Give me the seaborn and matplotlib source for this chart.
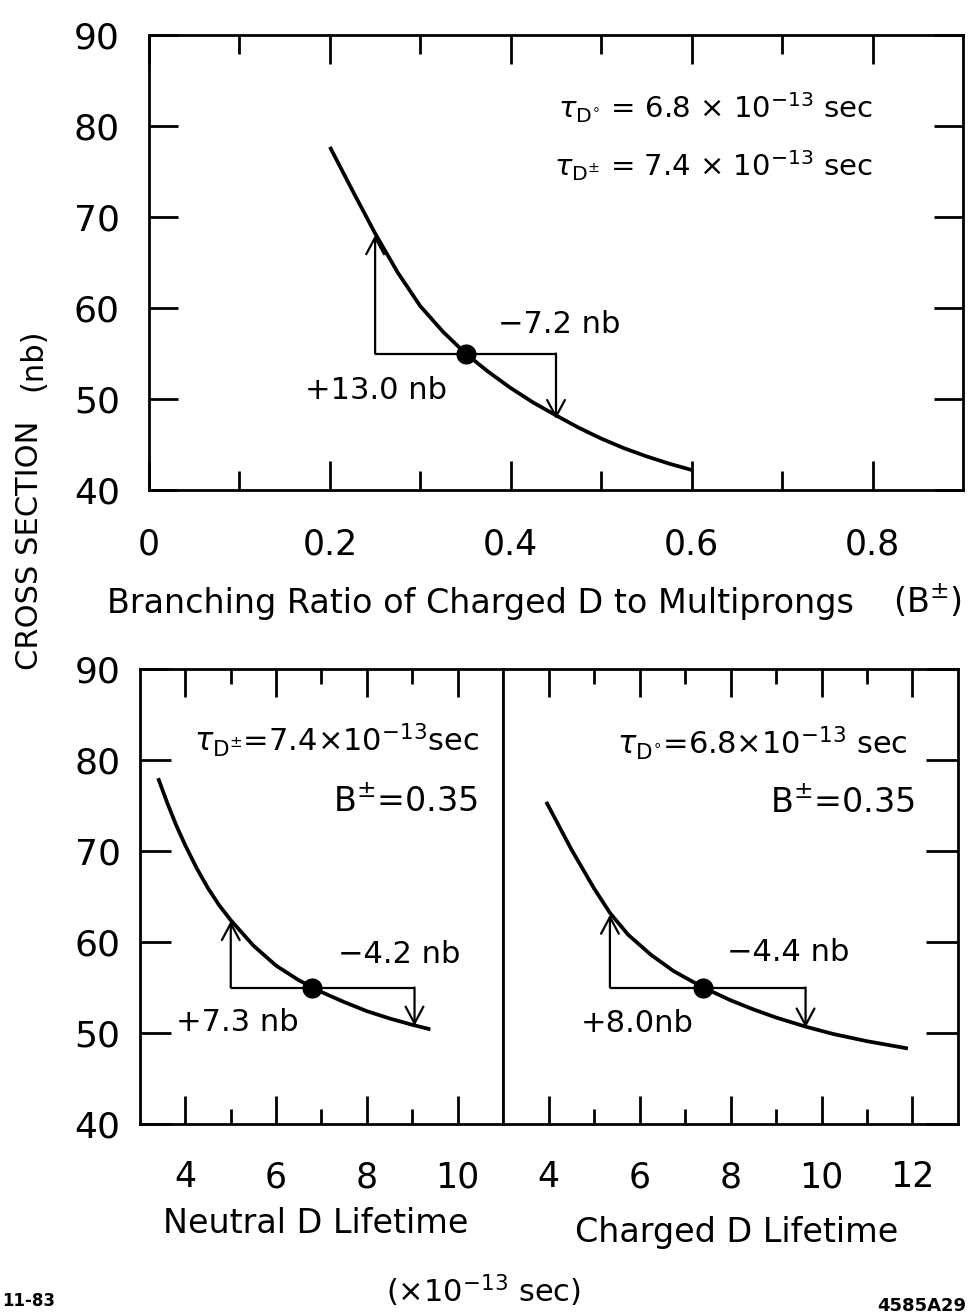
import matplotlib
matplotlib.use("Agg")
import matplotlib.pyplot as plt
import seaborn as sns

# ---- cross section (nb) versus charged-D branching ratio to multiprongs ----
branching_ratio = [0.200, 0.225, 0.250, 0.275, 0.300, 0.325, 0.350, 0.375, 0.400,
                   0.425, 0.450, 0.475, 0.500, 0.525, 0.550, 0.575, 0.600]
xsec_vs_branching = [77.7, 72.9, 68.2, 63.9, 60.2, 57.4, 55.0, 53.0, 51.2,
                     49.6, 48.2, 46.85, 45.65, 44.6, 43.7, 42.9, 42.2]

# ---- cross section versus neutral D lifetime (units of 1e-13 s) ----
neutral_lifetime = [3.4, 3.6, 3.8, 4.0, 4.25, 4.5, 4.75, 5.0, 5.5, 6.0, 6.5,
                    7.0, 7.5, 8.0, 8.5, 9.0, 9.4]
xsec_vs_neutral = [78.0, 75.3, 72.8, 70.6, 68.1, 65.9, 64.0, 62.4, 59.6, 57.4, 55.8,
                   54.5, 53.4, 52.4, 51.6, 50.9, 50.4]

# ---- cross section versus charged D lifetime (units of 1e-13 s) ----
charged_lifetime = [3.95, 4.5, 5.0, 5.35, 5.75, 6.25, 6.75, 7.4, 8.0, 8.5, 9.0,
                    9.65, 10.25, 11.0, 11.9]
xsec_vs_charged = [75.4, 70.2, 65.9, 63.2, 60.8, 58.6, 56.8, 55.0, 53.6, 52.6, 51.7,
                   50.7, 49.9, 49.1, 48.3]

# nominal working points and the variations applied around them
nominal_x = [0.35, 6.8, 7.4]
nominal_xsec = [55.0, 55.0, 55.0]
low_x = [0.25, 5.0, 5.35]
high_x = [0.45, 9.05, 9.65]
shift_up = [13.0, 7.3, 8.0]
shift_down = [-7.2, -4.2, -4.4]
shift_up_labels = ["+13.0 nb", "+7.3 nb", "+8.0nb"]
shift_down_labels = ["\u22127.2 nb", "\u22124.2 nb", "\u22124.4 nb"]

# axis ticks
y_ticks = [40, 50, 60, 70, 80, 90]
y_ticklabels = ["40", "50", "60", "70", "80", "90"]
br_major = [0.0, 0.2, 0.4, 0.6, 0.8]
br_major_labels = ["0", "0.2", "0.4", "0.6", "0.8"]
br_minor = [0.1, 0.3, 0.5, 0.7]
neutral_major = [4, 6, 8, 10]
neutral_minor = [5, 7, 9]
charged_major = [4, 6, 8, 10, 12]
charged_minor = [5, 7, 9, 11]

sns.set_style("ticks")
plt.rcParams["font.family"] = ["DejaVu Sans"]
plt.rcParams["mathtext.fontset"] = "dejavusans"
plt.rcParams["axes.linewidth"] = 2.0
for key in ("text.color", "axes.edgecolor", "axes.labelcolor",
            "xtick.color", "ytick.color"):
    plt.rcParams[key] = "black"

W, H = 970, 1313
fig = plt.figure(figsize=(W / 100, H / 100), dpi=100)


def frame(px_left, px_right, px_top, px_bottom):
    return fig.add_axes([px_left / W, 1 - px_bottom / H,
                         (px_right - px_left) / W, (px_bottom - px_top) / H])


ax_top = frame(149, 963, 35, 490)
ax_bl = frame(140, 503, 669, 1124)
ax_br = frame(503, 958, 669, 1124)

curve_lw = 2.7
arrow_lw = 1.6


def draw_panel(ax, xs, ys, i):
    sns.lineplot(x=xs, y=ys, ax=ax, color="black", lw=curve_lw, estimator=None,
                 sort=True, zorder=3, solid_joinstyle="round",
                 solid_capstyle="butt")
    base = nominal_xsec[i]
    ax.plot([low_x[i], high_x[i]], [base, base], color="black", lw=arrow_lw,
            solid_capstyle="butt", zorder=2)
    style = "->,head_length=0.6,head_width=0.32"
    ax.annotate("", xy=(low_x[i], base + shift_up[i]), xytext=(low_x[i], base),
                arrowprops=dict(arrowstyle=style, lw=arrow_lw, color="black",
                                shrinkA=0, shrinkB=0, mutation_scale=20))
    ax.annotate("", xy=(high_x[i], base + shift_down[i]), xytext=(high_x[i], base),
                arrowprops=dict(arrowstyle=style, lw=arrow_lw, color="black",
                                shrinkA=0, shrinkB=0, mutation_scale=20))
    sns.scatterplot(x=[nominal_x[i]], y=[base], ax=ax, s=210, color="black",
                    edgecolor="black", linewidth=0, zorder=4)
    ax.set_ylim(40, 90)
    ax.set_yticks(y_ticks)
    ax.set_xlabel("")
    ax.set_ylabel("")
    for sp in ax.spines.values():
        sp.set_visible(True)
        sp.set_linewidth(2.0)
        sp.set_color("black")


# ---- top panel ----
draw_panel(ax_top, branching_ratio, xsec_vs_branching, 0)
ax_top.set_xlim(0, 0.9)
ax_top.set_xticks(br_major)
ax_top.set_xticklabels(br_major_labels)
ax_top.set_xticks(br_minor, minor=True)
ax_top.set_yticklabels(y_ticklabels)
ax_top.tick_params(axis="x", which="major", direction="in", length=21, width=2,
                   top=True, bottom=True, labelsize=25, pad=27)
ax_top.tick_params(axis="x", which="minor", direction="in", length=14, width=2,
                   top=True, bottom=True)
ax_top.tick_params(axis="y", which="major", direction="in", length=21, width=2,
                   left=True, right=True, labelsize=26, pad=21)
ax_top.text(0.80, 80.9, r"$\tau_{\mathrm{D}^{\circ}}$ = 6.8 $\times$ 10$^{-13}$ sec",
            ha="right", va="baseline", fontsize=21)
ax_top.text(0.80, 74.5, r"$\tau_{\mathrm{D}^{\pm}}$ = 7.4 $\times$ 10$^{-13}$ sec",
            ha="right", va="baseline", fontsize=21)
ax_top.text(0.386, 57.3, shift_down_labels[0], ha="left", va="baseline", fontsize=22)
ax_top.text(0.1725, 50.0, shift_up_labels[0], ha="left", va="baseline", fontsize=22)

# ---- bottom left: neutral D lifetime ----
draw_panel(ax_bl, neutral_lifetime, xsec_vs_neutral, 1)
ax_bl.set_xlim(3, 11)
ax_bl.set_xticks(neutral_major)
ax_bl.set_xticks(neutral_minor, minor=True)
ax_bl.set_yticklabels(y_ticklabels)
ax_bl.tick_params(axis="x", which="major", direction="in", length=20, width=2,
                  top=True, bottom=True, labelsize=25, pad=26)
ax_bl.tick_params(axis="x", which="minor", direction="in", length=11, width=2,
                  top=True, bottom=True)
ax_bl.tick_params(axis="y", which="major", direction="in", length=22, width=2,
                  left=True, right=False, labelsize=26, pad=14)
ax_bl.text(10.48, 81.0, r"$\tau_{\mathrm{D}^{\pm}}$=7.4$\times$10$^{-13}$sec",
           ha="right", va="baseline", fontsize=22)
ax_bl.text(10.45, 74.3, r"B$^{\pm}$=0.35", ha="right", va="baseline", fontsize=24)
ax_bl.text(7.37, 57.7, shift_down_labels[1], ha="left", va="baseline", fontsize=22)
ax_bl.text(3.80, 50.2, shift_up_labels[1], ha="left", va="baseline", fontsize=22)

# ---- bottom right: charged D lifetime ----
draw_panel(ax_br, charged_lifetime, xsec_vs_charged, 2)
ax_br.set_xlim(3, 13)
ax_br.set_xticks(charged_major)
ax_br.set_xticks(charged_minor, minor=True)
ax_br.tick_params(axis="x", which="major", direction="in", length=20, width=2,
                  top=True, bottom=True, labelsize=25, pad=26)
ax_br.tick_params(axis="x", which="minor", direction="in", length=11, width=2,
                  top=True, bottom=True)
ax_br.tick_params(axis="y", which="major", direction="in", length=23, width=2,
                  left=False, right=True, labelleft=False, labelright=False)
ax_br.text(11.89, 80.6, r"$\tau_{\mathrm{D}^{\circ}}$=6.8$\times$10$^{-13}$ sec",
           ha="right", va="baseline", fontsize=22)
ax_br.text(12.06, 74.2, r"B$^{\pm}$=0.35", ha="right", va="baseline", fontsize=24)
ax_br.text(7.92, 57.9, shift_down_labels[2], ha="left", va="baseline", fontsize=22)
ax_br.text(4.70, 50.1, shift_up_labels[2], ha="left", va="baseline", fontsize=22)

# ---- axis titles ----
fig.text(480 / W, 1 - 613 / H, "Branching Ratio of Charged D to Multiprongs",
         ha="center", va="baseline", fontsize=24)
fig.text(927 / W, 1 - 613 / H, r"(B$^{\pm}$)", ha="center", va="baseline", fontsize=24)
fig.text(316 / W, 1 - 1233 / H, "Neutral D Lifetime", ha="center", va="baseline",
         fontsize=24)
fig.text(737 / W, 1 - 1242 / H, "Charged D Lifetime", ha="center", va="baseline",
         fontsize=24)
fig.text(483 / W, 1 - 1302 / H, r"($\times$10$^{-13}$ sec)", ha="center",
         va="baseline", fontsize=22)
fig.text(30 / W, 1 - 545 / H, "CROSS SECTION", rotation=90, ha="center",
         va="center", fontsize=22)
fig.text(33 / W, 1 - 360 / H, "(nb)", rotation=90, ha="center", va="center",
         fontsize=22)
fig.text(2 / W, 1 - 1306 / H, "11-83", ha="left", va="baseline", fontsize=12,
         fontweight="bold")
fig.text(966 / W, 1 - 1311 / H, "4585A29", ha="right", va="baseline", fontsize=13,
         fontweight="bold")

fig.savefig("out.png", dpi=100)
